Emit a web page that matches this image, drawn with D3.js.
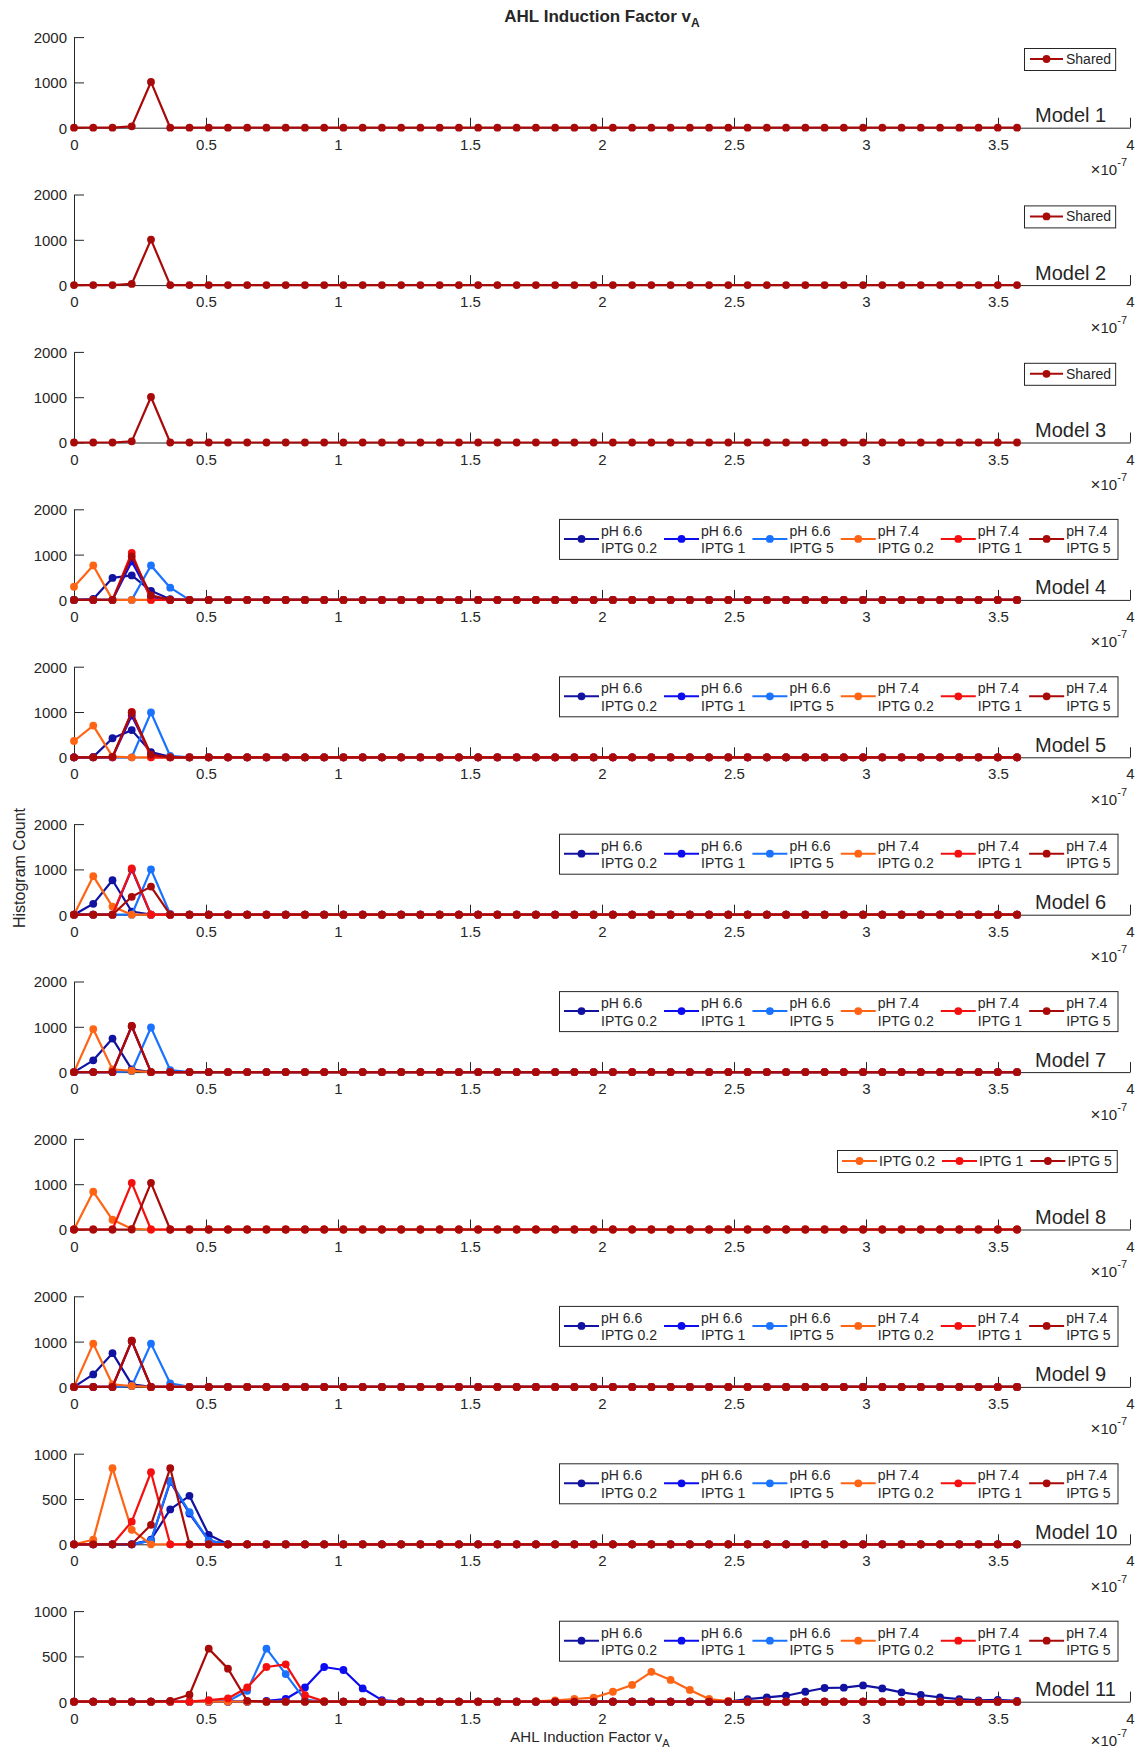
<!DOCTYPE html>
<html>
<head>
<meta charset="utf-8">
<script src="https://cdn.jsdelivr.net/npm/d3@7"></script>
<style>
  body { margin: 0; background: #ffffff; }
  svg text { font-family: "Liberation Sans", Arial, Helvetica, sans-serif; fill: #262626; }
</style>
</head>
<body>
<svg id="chart" width="1139" height="1751"></svg>
<script>
// ---- histogram grid (AHL induction factor, units of 1e-7) ----
const binWidth = 0.0729;
const binCount = 50;
const xTicks = [0, 0.5, 1, 1.5, 2, 2.5, 3, 3.5, 4];
const xTickLabels = ["0", "0.5", "1", "1.5", "2", "2.5", "3", "3.5", "4"];
const yTicksTall = [0, 1000, 2000];
const yTicksShort = [0, 500, 1000];

const modelNames = ["Model 1", "Model 2", "Model 3", "Model 4", "Model 5", "Model 6",
                    "Model 7", "Model 8", "Model 9", "Model 10", "Model 11"];

const conditionLabels = [["pH 6.6", "IPTG 0.2"], ["pH 6.6", "IPTG 1"], ["pH 6.6", "IPTG 5"],
                         ["pH 7.4", "IPTG 0.2"], ["pH 7.4", "IPTG 1"], ["pH 7.4", "IPTG 5"]];
const conditionColors = ["#1212a0", "#0c0cf0", "#1a73ff", "#ff6414", "#f51010", "#a80a0a"];
const iptgLabels = ["IPTG 0.2", "IPTG 1", "IPTG 5"];
const iptgColors = ["#ff6414", "#f51010", "#a80a0a"];
const sharedLabel = "Shared";
const sharedColor = "#a80a0a";

// ---- histogram counts per bin (bins after the last listed value are empty) ----
const model1Shared = [0, 0, 0, 30, 1010];
const model2Shared = [0, 0, 0, 25, 1005];
const model3Shared = [0, 0, 0, 25, 1005];

const model4 = [
  [0, 20, 485, 540, 200, 15],   // pH 6.6 IPTG 0.2
  [0, 0, 0, 850, 60],           // pH 6.6 IPTG 1
  [0, 0, 0, 0, 760, 270],       // pH 6.6 IPTG 5
  [290, 760, 0, 0],             // pH 7.4 IPTG 0.2
  [0, 0, 0, 1040, 0],           // pH 7.4 IPTG 1
  [0, 0, 0, 960, 100]           // pH 7.4 IPTG 5
];
const model5 = [
  [0, 10, 420, 600, 115, 10],
  [0, 0, 0, 920, 50],
  [0, 0, 0, 0, 990, 30],
  [360, 700, 15],
  [0, 0, 0, 1000],
  [0, 0, 10, 990, 60]
];
const model6 = [
  [0, 240, 760, 70],
  [0, 0, 0, 1000],
  [0, 0, 0, 0, 1000, 15],
  [0, 850, 180, 0],
  [0, 0, 0, 1020],
  [0, 0, 0, 395, 620]
];
const model7 = [
  [0, 260, 740, 60],
  [0, 0, 0, 1010],
  [0, 0, 0, 20, 985, 45],
  [0, 950, 60, 30],
  [0, 0, 0, 1020],
  [0, 0, 0, 1020]
];
const model8 = [
  [0, 835, 215, 15],            // IPTG 0.2
  [0, 0, 0, 1030],              // IPTG 1
  [0, 0, 0, 0, 1030]            // IPTG 5
];
const model9 = [
  [0, 275, 745, 55],
  [0, 0, 0, 1010],
  [0, 0, 0, 15, 955, 80],
  [0, 955, 55, 20],
  [0, 0, 0, 1020],
  [0, 0, 0, 1020]
];
const model10 = [
  [0, 0, 0, 0, 50, 385, 535, 105],
  [0, 0, 0, 0, 40, 690, 340, 40],
  [0, 0, 0, 0, 40, 700, 355, 40],
  [0, 50, 840, 160],
  [0, 0, 0, 250, 795],
  [0, 0, 0, 0, 215, 840]
];
const model11 = [
  [0, 0, 0, 0, 0, 0, 0, 0, 0, 0, 0, 0, 0, 0, 0, 0, 0, 0, 0, 0, 0, 0, 0, 0, 0, 0, 0, 0, 0, 0,
   0, 0, 0, 0, 0, 29, 48, 66, 110, 151, 155, 180, 147, 103, 74, 48, 29, 15, 20, 10],
  [0, 0, 0, 0, 0, 0, 0, 0, 0, 0, 10, 30, 157, 383, 350, 146, 18],
  [0, 0, 0, 0, 0, 0, 0, 0, 5, 120, 585, 305, 20],
  [0, 0, 0, 0, 0, 0, 0, 0, 0, 0, 0, 0, 0, 0, 0, 0, 0, 0, 0, 0, 0, 0, 0, 0,
   5, 15, 30, 45, 110, 185, 330, 240, 130, 30, 8],
  [0, 0, 0, 0, 0, 0, 0, 18, 36, 157, 383, 412, 73, 5],
  [0, 0, 0, 0, 0, 10, 77, 585, 365, 10]
];

// ---- panel descriptions ----
const conditionSeries = counts => counts.map((c, i) => ({label: conditionLabels[i], color: conditionColors[i], counts: c}));
const panels = [
  {yMax: 2000, legend: "single", series: [{label: [sharedLabel], color: sharedColor, counts: model1Shared}]},
  {yMax: 2000, legend: "single", series: [{label: [sharedLabel], color: sharedColor, counts: model2Shared}]},
  {yMax: 2000, legend: "single", series: [{label: [sharedLabel], color: sharedColor, counts: model3Shared}]},
  {yMax: 2000, legend: "conditions", series: conditionSeries(model4)},
  {yMax: 2000, legend: "conditions", series: conditionSeries(model5)},
  {yMax: 2000, legend: "conditions", series: conditionSeries(model6)},
  {yMax: 2000, legend: "conditions", series: conditionSeries(model7)},
  {yMax: 2000, legend: "iptg", series: model8.map((c, i) => ({label: [iptgLabels[i]], color: iptgColors[i], counts: c}))},
  {yMax: 2000, legend: "conditions", series: conditionSeries(model9)},
  {yMax: 1000, legend: "conditions", series: conditionSeries(model10)},
  {yMax: 1000, legend: "conditions", series: conditionSeries(model11)}
];

// ---- layout ----
const axisLeft = 74, axisRight = 1130;
const firstZero = 127.7, panelStep = 157.4, plotHeight = 90.6;
const axisColor = "#262626";
const fontStack = '"Liberation Sans", Arial, Helvetica, sans-serif';
const markerRadius = 3.9;

const svg = d3.select("#chart");
svg.append("rect").attr("width", 1139).attr("height", 1751).attr("fill", "#ffffff");

const x = d3.scaleLinear().domain([0, 4]).range([axisLeft, axisRight]);
const padCounts = c => d3.range(binCount).map(i => (i < c.length ? c[i] : 0));

const legendStyles = {
  single:     {left: 1024, top: -79.7, height: 22, fontSize: 14, padLeft: 6, lineLen: 33, textGap: 3, itemGap: 6, padRight: 4},
  conditions: {left: 559,  top: -81,   height: 40, fontSize: 14, padLeft: 5, lineLen: 35, textGap: 2, itemGap: 7, padRight: 7},
  iptg:       {left: 837,  top: -79.5, height: 22, fontSize: 14, padLeft: 5, lineLen: 35, textGap: 2, itemGap: 7, padRight: 5}
};

function drawLegend(g, zeroY, panel) {
  const st = legendStyles[panel.legend];
  const top = zeroY + st.top;
  const mid = top + st.height / 2;
  const box = g.append("rect")
    .attr("x", st.left + 0.5).attr("y", top + 0.5)
    .attr("height", st.height)
    .attr("fill", "#ffffff").attr("stroke", axisColor).attr("stroke-width", 1);
  let cursor = st.left + st.padLeft;
  panel.series.forEach(s => {
    g.append("line")
      .attr("x1", cursor).attr("x2", cursor + st.lineLen)
      .attr("y1", mid).attr("y2", mid)
      .attr("stroke", s.color).attr("stroke-width", 2);
    g.append("circle")
      .attr("cx", cursor + st.lineLen / 2).attr("cy", mid).attr("r", markerRadius)
      .attr("fill", s.color);
    const tx = cursor + st.lineLen + st.textGap;
    const lineYs = s.label.length === 2 ? [mid - 3, mid + 14.5] : [mid + 5];
    let w = 0;
    s.label.forEach((txt, j) => {
      const t = g.append("text").attr("x", tx).attr("y", lineYs[j])
        .attr("font-size", st.fontSize).text(txt);
      w = Math.max(w, t.node().getComputedTextLength());
    });
    cursor = tx + w + st.itemGap;
  });
  const right = cursor - st.itemGap + st.padRight;
  box.attr("width", right - st.left);
}

panels.forEach((panel, k) => {
  const zeroY = firstZero + k * panelStep;
  const y = d3.scaleLinear().domain([0, panel.yMax]).range([zeroY, zeroY - plotHeight]);
  const g = svg.append("g");

  // x axis: inward ticks, labels below
  const xa = g.append("g")
    .attr("transform", `translate(0,${zeroY})`)
    .call(d3.axisBottom(x).tickValues(xTicks)
      .tickFormat((d, i) => xTickLabels[i])
      .tickSizeInner(-10).tickSizeOuter(0).tickPadding(11.5));
  xa.attr("color", axisColor).attr("font-size", 15).attr("font-family", fontStack);

  // y axis: inward ticks, labels left
  const ya = g.append("g")
    .attr("transform", `translate(${axisLeft},0)`)
    .call(d3.axisLeft(y).tickValues(panel.yMax === 2000 ? yTicksTall : yTicksShort)
      .tickFormat(d3.format("d"))
      .tickSizeInner(-10).tickSizeOuter(0).tickPadding(7));
  ya.attr("color", axisColor).attr("font-size", 15).attr("font-family", fontStack);
  ya.selectAll("text").attr("dy", "0.36em");

  // series: lines with dot markers at each bin
  const line = d3.line().x((d, i) => x(i * binWidth)).y(d => y(d));
  panel.series.forEach(s => {
    const vals = padCounts(s.counts);
    g.append("path").datum(vals)
      .attr("d", line)
      .attr("fill", "none").attr("stroke", s.color)
      .attr("stroke-width", 2.2).attr("stroke-linejoin", "round");
    g.append("g").selectAll("circle").data(vals).join("circle")
      .attr("cx", (d, i) => x(i * binWidth)).attr("cy", d => y(d))
      .attr("r", markerRadius).attr("fill", s.color);
  });

  // model name
  g.append("text").attr("x", 1035).attr("y", zeroY - 5.5)
    .attr("font-size", 20).text(modelNames[k]);

  // exponent label (the bottom panel's sits a little higher to stay on the page)
  const exY = k === panels.length - 1 ? zeroY + 44 : zeroY + 47.5;
  const ex = g.append("text").attr("x", 1127).attr("y", exY)
    .attr("text-anchor", "end").attr("font-size", 15);
  ex.append("tspan").attr("font-size", 17).text("\u00d7");
  ex.append("tspan").text("10");
  ex.append("tspan").attr("font-size", 11).attr("dy", -9).text("-7");

  drawLegend(g, zeroY, panel);
});

// figure title
const title = svg.append("text").attr("x", 602).attr("y", 22)
  .attr("text-anchor", "middle").attr("font-size", 17).attr("font-weight", "bold");
title.append("tspan").text("AHL Induction Factor v");
title.append("tspan").attr("font-size", 12).attr("dy", 5).text("A");

// x-axis label
const xl = svg.append("text").attr("x", 590).attr("y", 1742)
  .attr("text-anchor", "middle").attr("font-size", 15);
xl.append("tspan").text("AHL Induction Factor v");
xl.append("tspan").attr("font-size", 11).attr("dy", 5).text("A");

// y-axis label
svg.append("text")
  .attr("transform", "translate(25,868) rotate(-90)")
  .attr("text-anchor", "middle").attr("font-size", 16)
  .text("Histogram Count");
</script>
</body>
</html>
